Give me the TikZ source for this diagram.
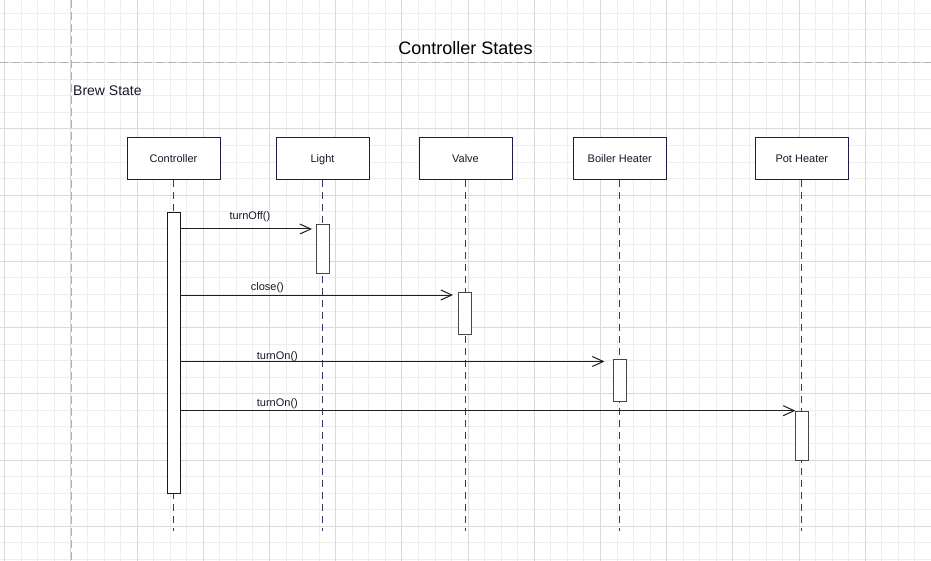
\documentclass[tikz,border=0pt]{standalone}
\usepackage{fontspec}
\setmainfont{Liberation Sans}
\usetikzlibrary{arrows.meta}
\definecolor{gridminor}{HTML}{EEEEEE}
\definecolor{gridmajor}{HTML}{DADADA}
\definecolor{sepline}{HTML}{B2B2B2}
\definecolor{navy}{HTML}{1C1C48}
\definecolor{lifecol}{HTML}{353A68}
\definecolor{txt}{HTML}{18182A}
\definecolor{actcol}{HTML}{474747}
\tikzset{
  headbox/.style={draw=navy, line width=1pt, fill=white, minimum width=93pt, minimum height=42pt, inner sep=0pt, text height=10pt, text depth=0.6pt, font=\fontsize{11}{13}\selectfont, text=txt},
  actbox/.style={draw=actcol, line width=1pt, fill=white, minimum width=13pt, inner sep=0pt, anchor=north},
  lifeline/.style={draw=lifecol, line width=1.3pt, dash pattern=on 7pt off 5pt},
  msg/.style={draw=black!88, line width=1pt, -{Straight Barb[length=11pt,width=10pt,line width=1pt]}},
  msglabel/.style={anchor=base west, inner sep=0pt, font=\fontsize{11}{13}\selectfont, text=txt},
  sep/.style={draw=sepline, line width=1pt, dash pattern=on 8pt off 4pt}
}
\begin{document}
\begin{tikzpicture}[x=1pt,y=-1pt]
\useasboundingbox (0,0) rectangle (931,561);
\fill[white] (0,0) rectangle (931,561);
% grid
\foreach \i in {0,...,56} {\draw[gridminor, line width=1pt] ({4.7+16.55*\i},0) -- ++(0,561);}
\foreach \i in {1,...,34} {\draw[gridminor, line width=1pt] (0,{-3.4+16.55*\i}) -- ++(931,0);}
\foreach \i in {0,...,14} {\draw[gridmajor, line width=1pt] ({4.7+66.2*\i},0) -- ++(0,561);}
\foreach \i in {1,...,8} {\draw[gridmajor, line width=1pt] (0,{-3.4+66.2*\i}) -- ++(931,0);}
% separators
\coordinate (sepT) at (71,0);
\coordinate (sepB) at (71,561);
\coordinate (sepL) at (0,63);
\coordinate (sepR) at (931,63);
\draw[sep] (sepL) -- (sepR);
\draw[sep] (sepT) -- (sepB);
% titles
\node[anchor=base, inner sep=0pt, font=\fontsize{18}{21}\selectfont, text=black] (title) at (465.5,55) {Controller States};
\node[anchor=base west, inner sep=0pt, font=\fontsize{14}{16}\selectfont, text=txt] (brew) at (73,96) {Brew State};
% heads
\node[headbox] (ctrl) at (173.5,158.3) {Controller};
\node[headbox] (light) at (322.5,158.3) {Light};
\node[headbox] (valve) at (465.5,158.3) {Valve};
\node[headbox] (boiler) at (619.8,158.3) {Boiler Heater};
\node[headbox] (pot) at (801.8,158.3) {Pot Heater};
% lifeline ends
\coordinate (ctrlEnd) at (173.5,531);
\coordinate (lightEnd) at (322.5,531);
\coordinate (valveEnd) at (465.5,531);
\coordinate (boilerEnd) at (619.8,531);
\coordinate (potEnd) at (801.8,531);
\draw[lifeline] (ctrl.south) -- (ctrlEnd);
\draw[lifeline] (light.south) -- (lightEnd);
\draw[lifeline] (valve.south) -- (valveEnd);
\draw[lifeline] (boiler.south) -- (boilerEnd);
\draw[lifeline] (pot.south) -- (potEnd);
% activations
\node[actbox, draw=black!90, minimum height=281pt] (ctrlA) at (173.9,212) {};
\node[actbox, minimum height=49pt] (lightA) at (322.7,224) {};
\node[actbox, minimum height=42pt] (valveA) at (465.4,292.3) {};
\node[actbox, minimum height=42pt] (boilerA) at (620.4,358.8) {};
\node[actbox, minimum height=49.5pt] (potA) at (802.4,410.7) {};
% messages
\coordinate (m1s) at (ctrlA.east |- 0,229);
\coordinate (m1e) at (312,229);
\coordinate (m2s) at (ctrlA.east |- 0,295);
\coordinate (m2e) at (453,295);
\coordinate (m3s) at (ctrlA.east |- 0,361.5);
\coordinate (m3e) at (604.5,361.5);
\coordinate (m4s) at (ctrlA.east |- 0,410.7);
\coordinate (m4e) at (potA.north west);
\draw[msg] (m1s) -- (m1e);
\draw[msg] (m2s) -- (m2e);
\draw[msg] (m3s) -- (m3e);
\draw[msg] (m4s) -- (m4e);
\node[msglabel] (l1) at (229.3,219.3) {turnOff()};
\node[msglabel] (l2) at (250.7,290.3) {close()};
\node[msglabel] (l3) at (256.7,359.6) {turnOn()};
\node[msglabel] (l4) at (256.7,406.6) {turnOn()};
\end{tikzpicture}
\end{document}
